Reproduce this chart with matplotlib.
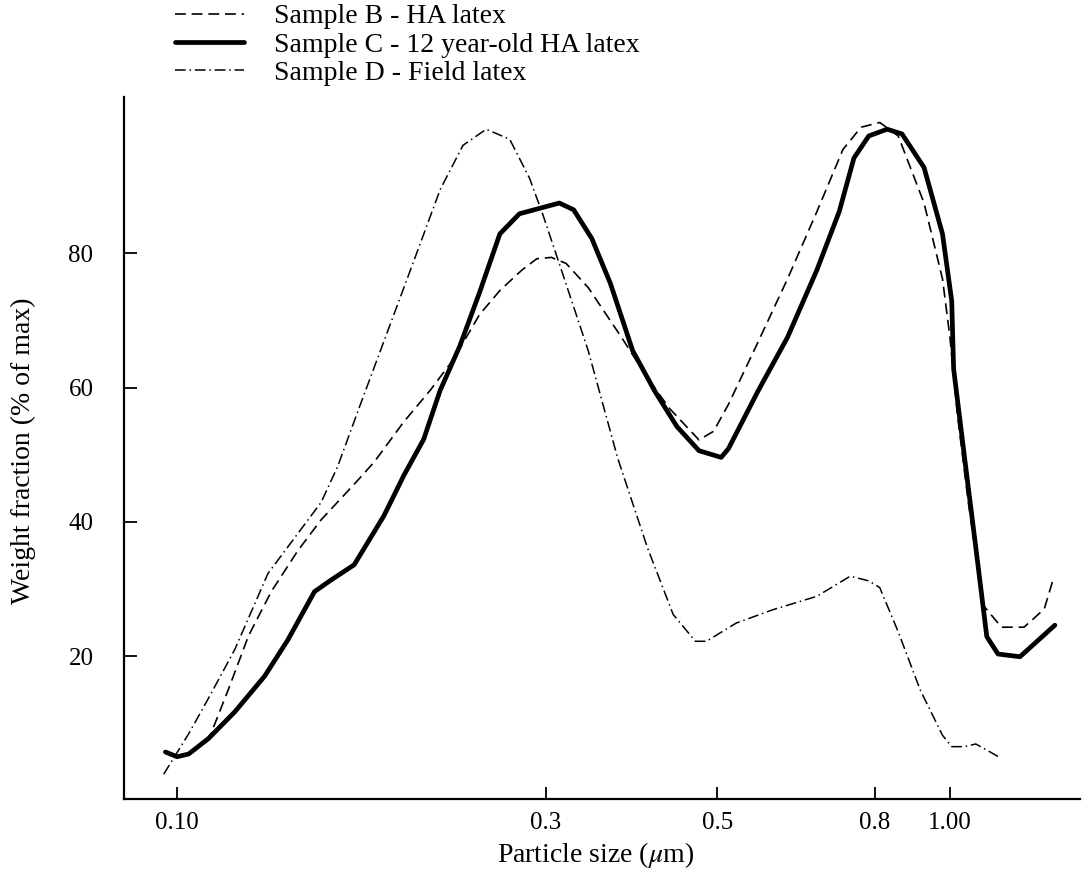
import matplotlib
matplotlib.use("Agg")
import matplotlib.pyplot as plt

plt.rcParams['font.family'] = ['Liberation Serif', 'DejaVu Serif']
plt.rcParams['mathtext.fontset'] = 'stix'

# ---- data (particle size in um, weight fraction in % of max) ----
b_size = [0.1087, 0.1106, 0.1165, 0.1237, 0.1324, 0.1433, 0.1536, 0.1695, 0.1799, 0.1965,
          0.2126, 0.2278, 0.2463, 0.2618, 0.2793, 0.2920, 0.3050, 0.3187, 0.3404, 0.3758,
          0.4059, 0.4336, 0.4735, 0.4946, 0.5169, 0.5646, 0.6164, 0.6726, 0.7272, 0.7675,
          0.8113, 0.8572, 0.9257, 0.978, 1.0, 1.0219, 1.0563, 1.1038, 1.1657, 1.2467,
          1.3243, 1.3614]
b_frac = [7.3, 8.4, 15.0, 23.0, 29.6, 35.7, 40.3, 45.6, 48.9, 54.9,
          59.6, 64.2, 70.9, 74.5, 77.5, 79.2, 79.4, 78.5, 74.9, 67.5,
          61.5, 56.9, 52.2, 53.5, 57.5, 66.8, 76.2, 86.2, 95.5, 98.8,
          99.5, 97.5, 87.5, 76.2, 67.5, 56.2, 42.9, 27.6, 24.3, 24.3,
          27.0, 31.6]

c_size = [0.0966, 0.100, 0.1035, 0.1098, 0.1188, 0.1298, 0.1391, 0.1506, 0.1581, 0.1695,
          0.1852, 0.1965, 0.2085, 0.219, 0.2322, 0.2463, 0.2616, 0.2773, 0.3123, 0.3259,
          0.3441, 0.3637, 0.3886, 0.4149, 0.4433, 0.4735, 0.5058, 0.5169, 0.5646, 0.6164,
          0.6726, 0.7189, 0.7512, 0.7852, 0.8294, 0.8668, 0.9257, 0.978, 1.0053, 1.011,
          1.0447, 1.080, 1.116, 1.154, 1.232, 1.367]
c_frac = [5.7, 5.0, 5.4, 7.7, 11.7, 17.0, 22.4, 29.6, 31.3, 33.6,
          40.9, 46.9, 52.3, 59.6, 66.2, 74.2, 82.9, 85.9, 87.5, 86.5,
          82.2, 75.5, 65.5, 59.5, 54.2, 50.6, 49.6, 50.9, 59.5, 67.5,
          77.5, 86.2, 94.2, 97.5, 98.5, 97.8, 92.8, 82.9, 72.9, 62.8,
          49.5, 36.2, 22.9, 20.3, 19.9, 24.6]

d_size = [0.0961, 0.1035, 0.1098, 0.1188, 0.1311, 0.1419, 0.1536, 0.1613, 0.1728, 0.1870,
          0.2004, 0.2190, 0.2344, 0.2512, 0.2694, 0.2858, 0.2973, 0.3116, 0.3404, 0.3716,
          0.4059, 0.4384, 0.4684, 0.4840, 0.5287, 0.5899, 0.6726, 0.7430, 0.7852, 0.8113,
          0.8572, 0.9156, 0.978, 1.0053, 1.0447, 1.080, 1.160]
d_frac = [2.4, 8.4, 13.7, 21.0, 32.3, 37.6, 42.9, 48.2, 57.6, 68.2,
          77.5, 89.5, 96.1, 98.5, 97.0, 91.2, 85.8, 78.8, 65.5, 49.5,
          36.2, 26.2, 22.2, 22.2, 24.9, 26.9, 28.9, 31.9, 31.2, 30.2,
          23.6, 14.9, 8.2, 6.5, 6.5, 6.9, 4.9]

labels = ["Sample B - HA latex", "Sample C - 12 year-old HA latex", "Sample D - Field latex"]
xticks = [0.10, 0.3, 0.5, 0.8, 1.00]
xticklabels = ["0.10", "0.3", "0.5", "0.8", "1.00"]
yticks = [20, 40, 60, 80]

W, H = 1086, 872
fig = plt.figure(figsize=(W / 100, H / 100), dpi=100)
ax = fig.add_axes([124 / W, 1 - 799 / H, (1080 - 124) / W, (799 - 97) / H])

lb, = ax.plot(b_size, b_frac, color='black', lw=1.2, dashes=(6.5, 3.5))
lc, = ax.plot(c_size, c_frac, color='black', lw=3.4, solid_capstyle='round', solid_joinstyle='round')
ld, = ax.plot(d_size, d_frac, color='black', lw=1.1, dashes=(7, 2.5, 1, 2.5))

ax.set_xscale('log')
ax.set_xlim(0.08538, 1.4732)
ax.set_ylim(-1.3, 103.3)
ax.minorticks_off()
ax.set_xticks(xticks)
ax.set_xticklabels(xticklabels)
ax.set_yticks(yticks)

for s in ['top', 'right']:
    ax.spines[s].set_visible(False)
for s in ['left', 'bottom']:
    ax.spines[s].set_linewidth(1.6)

ax.tick_params(axis='x', direction='in', length=9, width=1.3, pad=9, labelsize=18)
ax.tick_params(axis='y', direction='in', length=9, width=1.3, pad=22, labelsize=18)

fig.text(596 / W, 1 - 862 / H, r"Particle size ($\mu$m)", ha='center', va='baseline', fontsize=20)
fig.text(23 / W, 1 - 451 / H, "Weight fraction (% of max)", ha='center', va='center',
         rotation=90, fontsize=20)

fig.legend([lb, lc, ld], labels, loc='upper left', bbox_to_anchor=(175 / W, 1 - 4 / H),
           frameon=False, fontsize=20, handlelength=2.5, handletextpad=1.05,
           labelspacing=0.1, borderaxespad=0, borderpad=0)

fig.savefig("out.png", dpi=100)
